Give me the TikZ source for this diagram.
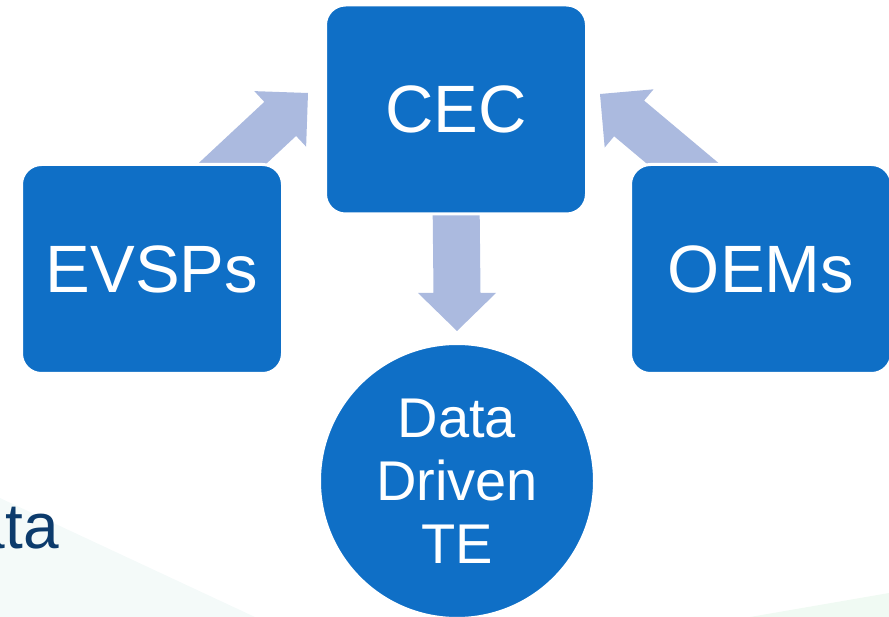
\documentclass[tikz,border=0pt]{standalone}
\usepackage{fontspec}
\setmainfont{Liberation Sans}
\usetikzlibrary{backgrounds,calc}
\definecolor{boxblue}{HTML}{0F6FC6}
\definecolor{arrowblue}{HTML}{ABBADF}
\definecolor{navy}{HTML}{0C3B6C}
\definecolor{bgcyan}{HTML}{F4FAF9}
\definecolor{bggreen}{HTML}{F0FAF3}
\begin{document}
\begin{tikzpicture}[x=1pt,y=-1pt,
  box/.style={rectangle, rounded corners=20pt, fill=boxblue, draw=white, line width=3pt,
    minimum width=261pt, minimum height=209pt, inner sep=0pt, text=white,
    font=\fontsize{67}{80}\selectfont},
  disc/.style={circle, fill=boxblue, draw=white, line width=3pt, minimum size=275pt,
    inner sep=0pt, text=white, align=center, font=\fontsize{56}{63}\selectfont},
  blockarrow/.style={fill=arrowblue}
]
\useasboundingbox (0,0) rectangle (889,617);

% nodes
\node[box] (cec) at (456,109.5) {CEC};
\node[box] (evsp) at (152,269) {EVSPs};
\node[box] (oem) at (761,269) {OEMs};
\node[disc] (te) at (457,481) {Data\\Driven\\TE};
\node[anchor=base east, inner sep=0pt, text=navy, font=\fontsize{64}{70}\selectfont] (ata) at (59,548) {ata};

% arrow tips
\coordinate (tipL) at (308,93);
\coordinate (tipR) at (600,94);
\coordinate (tipD) at (457,331);

\begin{scope}[on background layer]
  % faint background shading
  \fill[bgcyan] (0,498) -- (255,617) -- (0,617) -- cycle;
  \fill[bggreen] (750,617) -- (889,593) -- (889,617) -- cycle;

  % EVSPs -> CEC (direction -43 deg)
  \fill[blockarrow] (tipL)
    -- ($(tipL)+(137:38)+(47:38)$)
    -- ($(tipL)+(137:38)+(47:23.3)$)
    -- ($(tipL)+(137:138)+(47:23.3)$)
    -- ($(tipL)+(137:138)+(-133:23.3)$)
    -- ($(tipL)+(137:38)+(-133:23.3)$)
    -- ($(tipL)+(137:38)+(-133:38)$) -- cycle;

  % OEMs -> CEC (direction -140 deg)
  \fill[blockarrow] (tipR)
    -- ($(tipR)+(40:38)+(-50:38)$)
    -- ($(tipR)+(40:38)+(-50:23.3)$)
    -- ($(tipR)+(40:148)+(-50:23.3)$)
    -- ($(tipR)+(40:148)+(130:23.3)$)
    -- ($(tipR)+(40:38)+(130:23.3)$)
    -- ($(tipR)+(40:38)+(130:38)$) -- cycle;

  % CEC -> Data Driven TE
  \fill[blockarrow] (tipD)
    -- ($(tipD)+(39,-38)$)
    -- ($(tipD)+(23.5,-38)$)
    -- ($(cec.south)+(23.5,-20)$)
    -- ($(cec.south)+(-23.5,-20)$)
    -- ($(tipD)+(-23.5,-38)$)
    -- ($(tipD)+(-39,-38)$) -- cycle;
\end{scope}
\end{tikzpicture}
\end{document}
